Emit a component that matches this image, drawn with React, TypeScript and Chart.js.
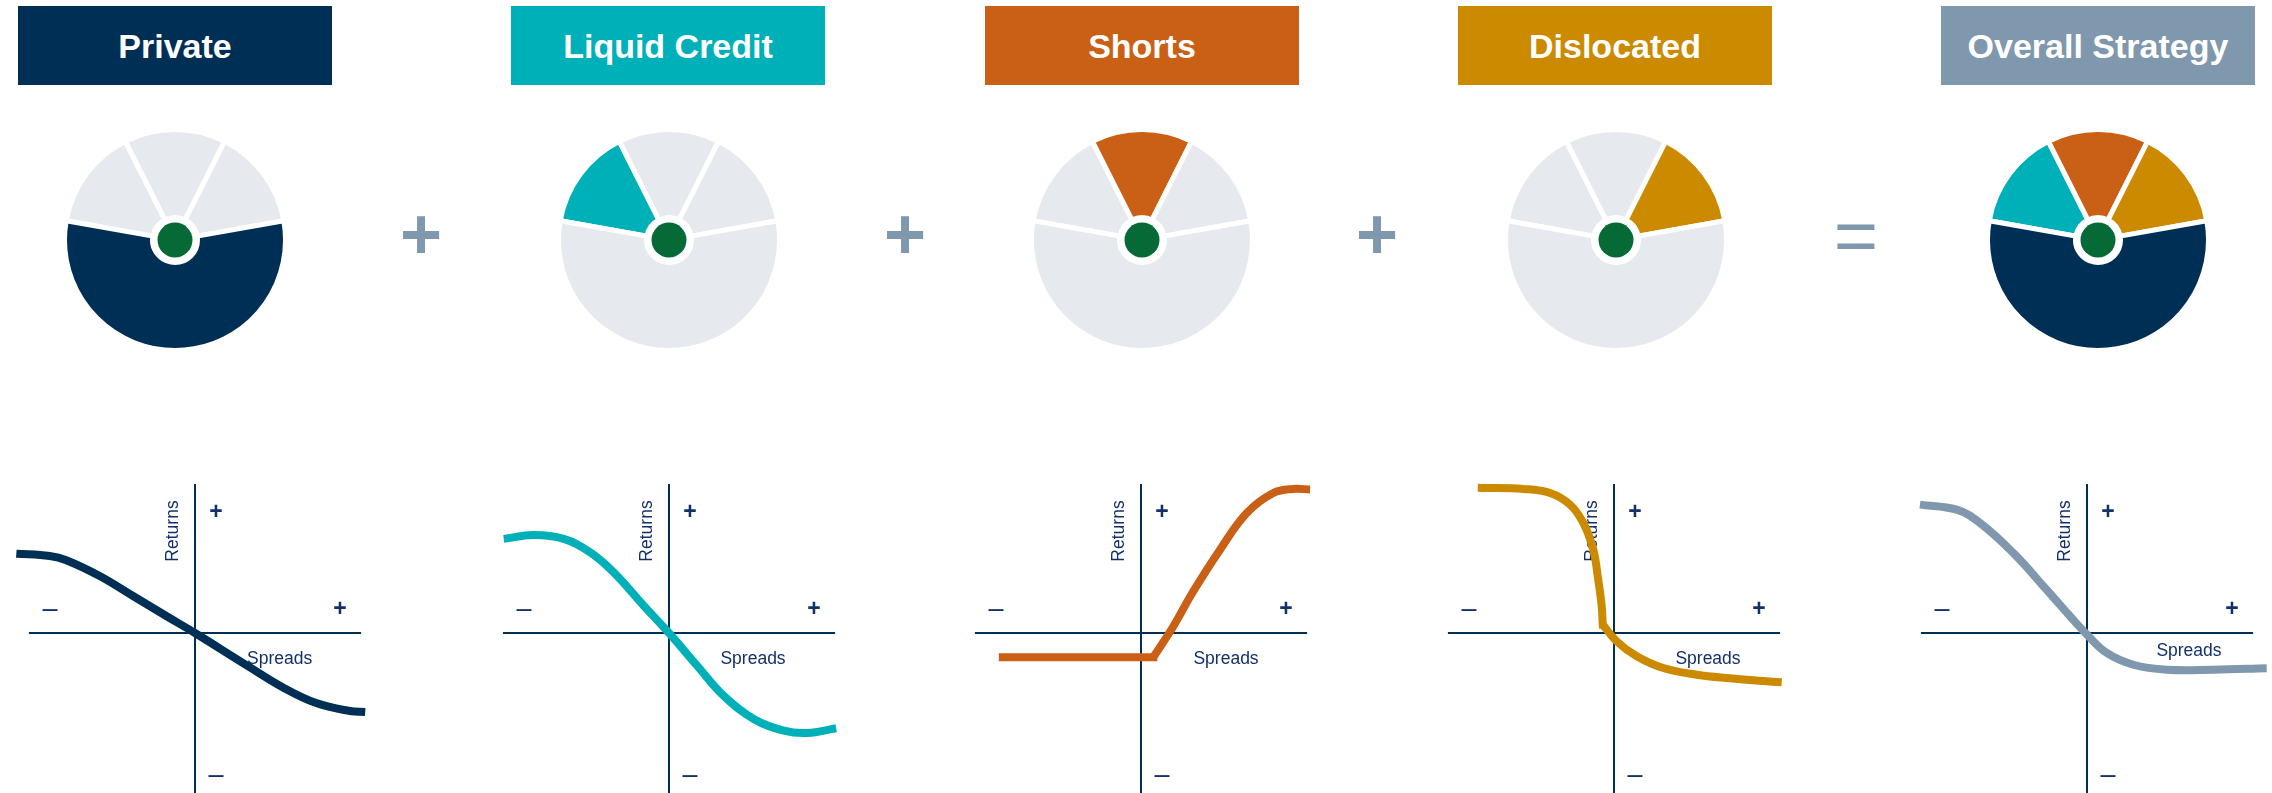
import React, { useEffect, useRef } from "react";
import { Chart, registerables } from "chart.js";

Chart.register(...registerables);

// Palette
const NAVY = "#002f56";
const TEAL = "#00b0b9";
const ORANGE = "#ca5f16";
const GOLD = "#cc8a00";
const SLATE = "#7f98ad";
const MIST = "#e6e9ee";
const GREEN = "#066a37";
const INK = "#13306a";
const FONT = "'Liberation Sans', Arial, Helvetica, sans-serif";

// Sleeves of the strategy
const strategies = ["Private", "Liquid Credit", "Shorts", "Dislocated", "Overall Strategy"];
const headerColors = [NAVY, TEAL, ORANGE, GOLD, SLATE];
const operators = ["+", "+", "+", "="];

// Allocation wheel, segments clockwise from the upper-left
const wheelSegments = ["Liquid Credit", "Shorts", "Dislocated", "Private"];
const wheelValues = [16, 16, 16, 60];
const wheelFills = [
  [MIST, MIST, MIST, NAVY],
  [TEAL, MIST, MIST, MIST],
  [MIST, ORANGE, MIST, MIST],
  [MIST, MIST, GOLD, MIST],
  [TEAL, ORANGE, GOLD, NAVY],
];

// Payoff profiles: returns against change in spreads
const privateSpreads = [-107.6, -87.5, -77.5, -57.4, -37.3, -17.3, 0, 30.9, 53.0, 73.0, 93.2, 102.5];
const privateReturns = [53.2, 51.6, 48.8, 38.2, 24.8, 11.4, 0, -21.5, -36.5, -47.0, -52.3, -53.0];

const liquidSpreads = [-99.5, -81.5, -63.4, -47.4, -33.3, -15.2, 0, 16.9, 32.9, 51.0, 69.1, 83.1, 100.7];
const liquidReturns = [63.1, 65.7, 63.1, 54.1, 40.7, 18.3, 0, -21.9, -42.1, -57.7, -65.5, -67.1, -63.9];

const shortsFloorSpreads = [-83.2, 7.4];
const shortsFloorReturns = [-16.3, -16.3];
const shortsRiseSpreads = [7.4, 19.5, 31.5, 47.6, 63.7, 79.7, 91.7, 101.8];
const shortsRiseReturns = [-16.3, 4.5, 28.0, 55.9, 80.5, 93.9, 96.6, 96.2];

const dislocatedUpperSpreads = [-79.6, -54.6, -38.5, -26.5, -18.5, -12.5, -9.5, -7.4, -6.8];
const dislocatedUpperReturns = [97.3, 96.6, 93.9, 86.1, 73.8, 55.9, 35.8, 17.9, 5.6];
const dislocatedLowerSpreads = [-6.8, 1.6, 13.7, 29.7, 49.8, 69.8, 89.9, 101.0];
const dislocatedLowerReturns = [5.6, -5.6, -15.6, -23.5, -28.0, -30.4, -32.2, -33.1];

const overallSpreads = [-100.6, -78.5, -64.4, -44.4, -24.3, -10.2, 0, 11.9, 27.9, 48.0, 76.1, 108.2];
const overallReturns = [86.1, 82.7, 73.8, 53.7, 29.0, 11.2, -1.1, -13.4, -21.3, -24.6, -24.6, -23.7];

// Quadrant signs: top, left, right, bottom
const quadrantSigns = ["+", "–", "+", "–"];
const axisTitles = ["Spreads", "Returns"];

type Piece = { x: number[]; y: number[]; tension: number; cap: CanvasLineCap };

const payoffs: { color: string; pieces: Piece[] }[] = [
  { color: NAVY, pieces: [{ x: privateSpreads, y: privateReturns, tension: 0.4, cap: "butt" }] },
  { color: TEAL, pieces: [{ x: liquidSpreads, y: liquidReturns, tension: 0.4, cap: "butt" }] },
  {
    color: ORANGE,
    pieces: [
      { x: shortsFloorSpreads, y: shortsFloorReturns, tension: 0, cap: "square" },
      { x: shortsRiseSpreads, y: shortsRiseReturns, tension: 0.4, cap: "butt" },
    ],
  },
  {
    color: GOLD,
    pieces: [
      { x: dislocatedUpperSpreads, y: dislocatedUpperReturns, tension: 0.4, cap: "square" },
      { x: dislocatedLowerSpreads, y: dislocatedLowerReturns, tension: 0.4, cap: "butt" },
    ],
  },
  { color: SLATE, pieces: [{ x: overallSpreads, y: overallReturns, tension: 0.4, cap: "butt" }] },
];

// Layout (page pixels)
const headerLeft = [18, 511, 985, 1458, 1941];
const headerWidth = 314;
const wheelCenterX = [175, 669, 1142, 1616, 2098];
const wheelCenterY = 240;
const wheelBox = 226;
const operatorX = [421, 905, 1377, 1856];
const operatorY = [234, 234, 234, 236];
const operatorWeight = ["bold", "bold", "bold", "normal"];
const payoffOriginX = [195, 669, 1141, 1614, 2087];
const payoffOriginY = 633;
const payoffW = 372;
const payoffH = 328;

// Value ranges of the payoff panels
const spreadRange = [-112, 112];
const returnRange = [-108, 112];
const spreadAxisEnds = [-100, 100];
const returnAxisTop = 100;
// Label anchors in value space: top, left, right, bottom signs
const signAnchors = [
  [12.6, 81.2],
  [-87.3, 16.1],
  [87.3, 16.1],
  [12.6, -95.2],
];
const returnsAnchor = [-12.9, 68.4];
const spreadsAnchors = [
  [51.0, -17.4],
  [50.6, -17.4],
  [51.2, -17.4],
  [56.6, -17.4],
  [61.4, -12.1],
];

const hubPlugin = {
  id: "hub",
  afterDatasetsDraw(chart: any) {
    const arc = chart.getDatasetMeta(0).data[0];
    if (!arc) return;
    const ctx = chart.ctx as CanvasRenderingContext2D;
    ctx.save();
    ctx.beginPath();
    ctx.arc(arc.x, arc.y, 17.5, 0, Math.PI * 2);
    ctx.fillStyle = GREEN;
    ctx.fill();
    ctx.restore();
  },
};

function Wheel({ index }: { index: number }) {
  const ref = useRef<HTMLCanvasElement>(null);
  useEffect(() => {
    const chart = new Chart(ref.current!, {
      type: "doughnut",
      data: {
        labels: wheelSegments,
        datasets: [
          {
            data: wheelValues,
            backgroundColor: wheelFills[index],
            borderColor: "#ffffff",
            borderWidth: 5,
            hoverOffset: 0,
          },
        ],
      },
      options: {
        responsive: false,
        animation: false,
        events: [],
        rotation: -80,
        cutout: 22.5,
        layout: { padding: 0 },
        plugins: { legend: { display: false }, tooltip: { enabled: false } },
      } as any,
      plugins: [hubPlugin],
    });
    return () => chart.destroy();
  }, [index]);
  return (
    <canvas
      ref={ref}
      width={wheelBox}
      height={wheelBox}
      style={{
        position: "absolute",
        left: wheelCenterX[index] - wheelBox / 2,
        top: wheelCenterY - wheelBox / 2,
        width: wheelBox,
        height: wheelBox,
      }}
    />
  );
}

function makeAxesPlugin(index: number) {
  return {
    id: "quadrantAxes",
    beforeDatasetsDraw(chart: any) {
      const ctx = chart.ctx as CanvasRenderingContext2D;
      const xs = chart.scales.x;
      const ys = chart.scales.y;
      const px = (v: number) => xs.getPixelForValue(v);
      const py = (v: number) => ys.getPixelForValue(v);
      ctx.save();
      ctx.strokeStyle = NAVY;
      ctx.lineWidth = 2;
      ctx.beginPath();
      ctx.moveTo(px(spreadAxisEnds[0]), py(0));
      ctx.lineTo(px(spreadAxisEnds[1]), py(0));
      ctx.stroke();
      ctx.beginPath();
      ctx.moveTo(px(0), py(returnAxisTop));
      ctx.lineTo(px(0), ys.bottom);
      ctx.stroke();

      ctx.fillStyle = INK;
      ctx.textAlign = "center";
      quadrantSigns.forEach((s, i) => {
        const [ax, ay] = signAnchors[i];
        if (s === "+") {
          ctx.font = `bold 23px ${FONT}`;
          ctx.textBaseline = "middle";
          ctx.fillText(s, px(ax), py(ay) + 1);
        } else {
          ctx.font = `27px ${FONT}`;
          ctx.textBaseline = "alphabetic";
          ctx.fillText(s, px(ax), py(ay) + 8);
        }
      });

      ctx.font = `17.5px ${FONT}`;
      ctx.textBaseline = "middle";
      const [sx, sy] = spreadsAnchors[index];
      ctx.fillText(axisTitles[0], px(sx), py(sy));
      ctx.translate(px(returnsAnchor[0]), py(returnsAnchor[1]));
      ctx.rotate(-Math.PI / 2);
      ctx.fillText(axisTitles[1], 0, 0);
      ctx.restore();
    },
  };
}

function Payoff({ index }: { index: number }) {
  const ref = useRef<HTMLCanvasElement>(null);
  useEffect(() => {
    const p = payoffs[index];
    const chart = new Chart(ref.current!, {
      type: "line",
      data: {
        datasets: p.pieces.map((piece) => ({
          data: piece.x.map((x, i) => ({ x, y: piece.y[i] })),
          borderColor: p.color,
          borderWidth: 8,
          borderCapStyle: piece.cap,
          pointRadius: 0,
          pointHoverRadius: 0,
          fill: false,
          tension: piece.tension,
          clip: false,
        })),
      },
      options: {
        responsive: false,
        animation: false,
        events: [],
        layout: { padding: 0 },
        scales: {
          x: { type: "linear", min: spreadRange[0], max: spreadRange[1], display: false },
          y: { type: "linear", min: returnRange[0], max: returnRange[1], display: false },
        },
        plugins: { legend: { display: false }, tooltip: { enabled: false } },
      } as any,
      plugins: [makeAxesPlugin(index)],
    });
    return () => chart.destroy();
  }, [index]);
  const originFromTop = (returnRange[1] / (returnRange[1] - returnRange[0])) * payoffH;
  return (
    <canvas
      ref={ref}
      width={payoffW}
      height={payoffH}
      style={{
        position: "absolute",
        left: payoffOriginX[index] - payoffW / 2,
        top: Math.round(payoffOriginY - originFromTop),
        width: payoffW,
        height: payoffH,
      }}
    />
  );
}

export default function App() {
  return (
    <div
      style={{
        position: "absolute",
        left: 0,
        top: 0,
        width: 2272,
        height: 793,
        overflow: "hidden",
        background: "#ffffff",
        fontFamily: FONT,
      }}
    >
      {strategies.map((name, i) => (
        <div
          key={name}
          style={{
            position: "absolute",
            left: headerLeft[i],
            top: 6,
            width: headerWidth,
            height: 79,
            background: headerColors[i],
            color: "#ffffff",
            fontWeight: "bold",
            fontSize: 34,
            display: "flex",
            alignItems: "center",
            justifyContent: "center",
            lineHeight: 1,
          }}
        >
          {name}
        </div>
      ))}
      {strategies.map((name, i) => (
        <Wheel key={"w" + name} index={i} />
      ))}
      {operators.map((op, i) => (
        <div
          key={"op" + i}
          style={{
            position: "absolute",
            left: operatorX[i],
            top: operatorY[i],
            transform: "translate(-50%, -50%)",
            fontSize: op === "+" ? 72 : 76,
            fontWeight: operatorWeight[i] as any,
            lineHeight: 1,
            color: SLATE,
          }}
        >
          {op}
        </div>
      ))}
      {strategies.map((name, i) => (
        <Payoff key={"p" + name} index={i} />
      ))}
    </div>
  );
}
